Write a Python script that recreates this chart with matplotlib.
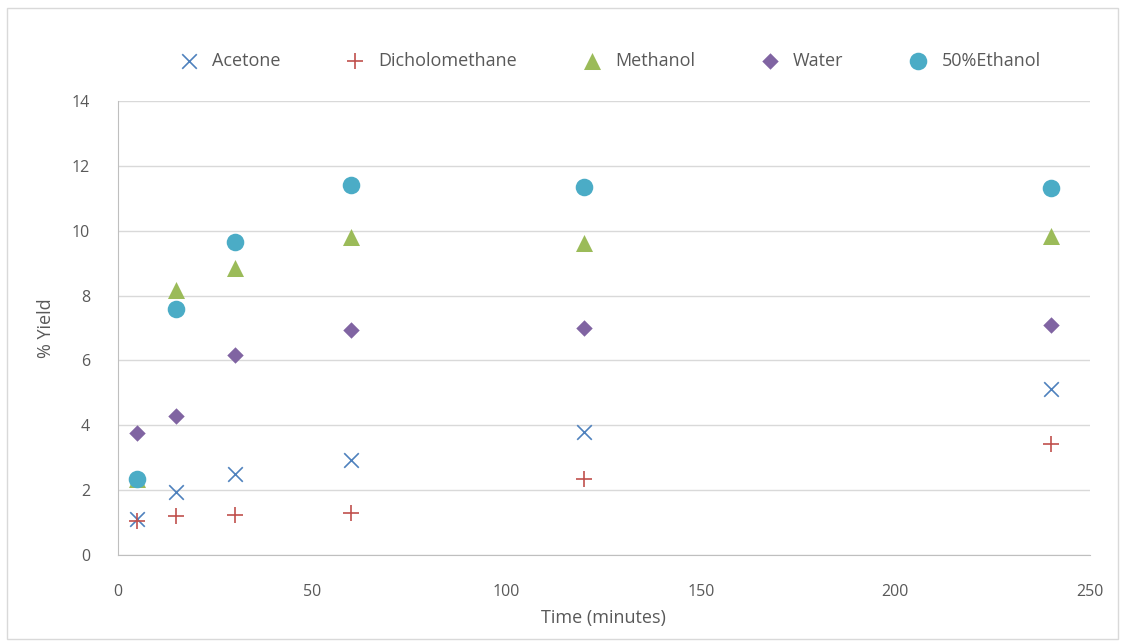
import matplotlib.pyplot as plt
from matplotlib.patches import Rectangle

time = [5, 15, 30, 60, 120, 240]
acetone = [1.11, 1.94, 2.50, 2.93, 3.79, 5.12]
dichloromethane = [1.05, 1.20, 1.23, 1.30, 2.34, 3.42]
methanol = [2.35, 8.17, 8.85, 9.81, 9.62, 9.84]
water = [3.76, 4.29, 6.17, 6.94, 7.00, 7.09]
ethanol = [2.34, 7.59, 9.65, 11.41, 11.35, 11.32]

plt.rcParams['font.family'] = ['Open Sans', 'DejaVu Sans']
grey = '#595959'

fig = plt.figure(figsize=(11.28, 6.42), dpi=100)
ax = fig.add_axes([0.1046, 0.1355, 0.8614, 0.7072])

ax.scatter(time, acetone, marker='x', s=110, color='#4f81bd', linewidths=1.2, label='Acetone', zorder=3)
ax.scatter(time, dichloromethane, marker='+', s=130, color='#c0504d', linewidths=1.2, label='Dicholomethane', zorder=3)
ax.scatter(time, methanol, marker='^', s=150, color='#9bbb59', linewidths=0, label='Methanol', zorder=3)
ax.scatter(time, water, marker='D', s=70, color='#8064a2', linewidths=0, label='Water', zorder=3)
ax.scatter(time, ethanol, marker='o', s=160, color='#4bacc6', linewidths=0, label='50%Ethanol', zorder=4)

ax.set_xlim(0, 250)
ax.set_ylim(0, 14)
ax.set_xticks(range(0, 251, 50))
ax.set_yticks(range(0, 15, 2))
ax.grid(axis='y', color='#d9d9d9', linewidth=1)
ax.set_axisbelow(True)
for s in ['top', 'right']:
    ax.spines[s].set_visible(False)
for s in ['left', 'bottom']:
    ax.spines[s].set_color('#bfbfbf')
ax.tick_params(colors=grey, labelsize=11.5, length=0)
ax.tick_params(axis='x', pad=21)
ax.tick_params(axis='y', pad=20)
ax.set_xlabel('Time (minutes)', fontsize=13, color=grey, labelpad=6)
ax.set_ylabel('% Yield', fontsize=13, color=grey, labelpad=12)

fig.legend(loc='center', bbox_to_anchor=(0.537, 0.905), ncol=5, frameon=False,
           fontsize=13, labelcolor=grey, columnspacing=3.12, handletextpad=0.3)

fig.patches.append(Rectangle((0.006, 0.005), 0.985, 0.983, transform=fig.transFigure,
                             fill=False, edgecolor='#d9d9d9', linewidth=1))

fig.savefig('out.png', dpi=100)
